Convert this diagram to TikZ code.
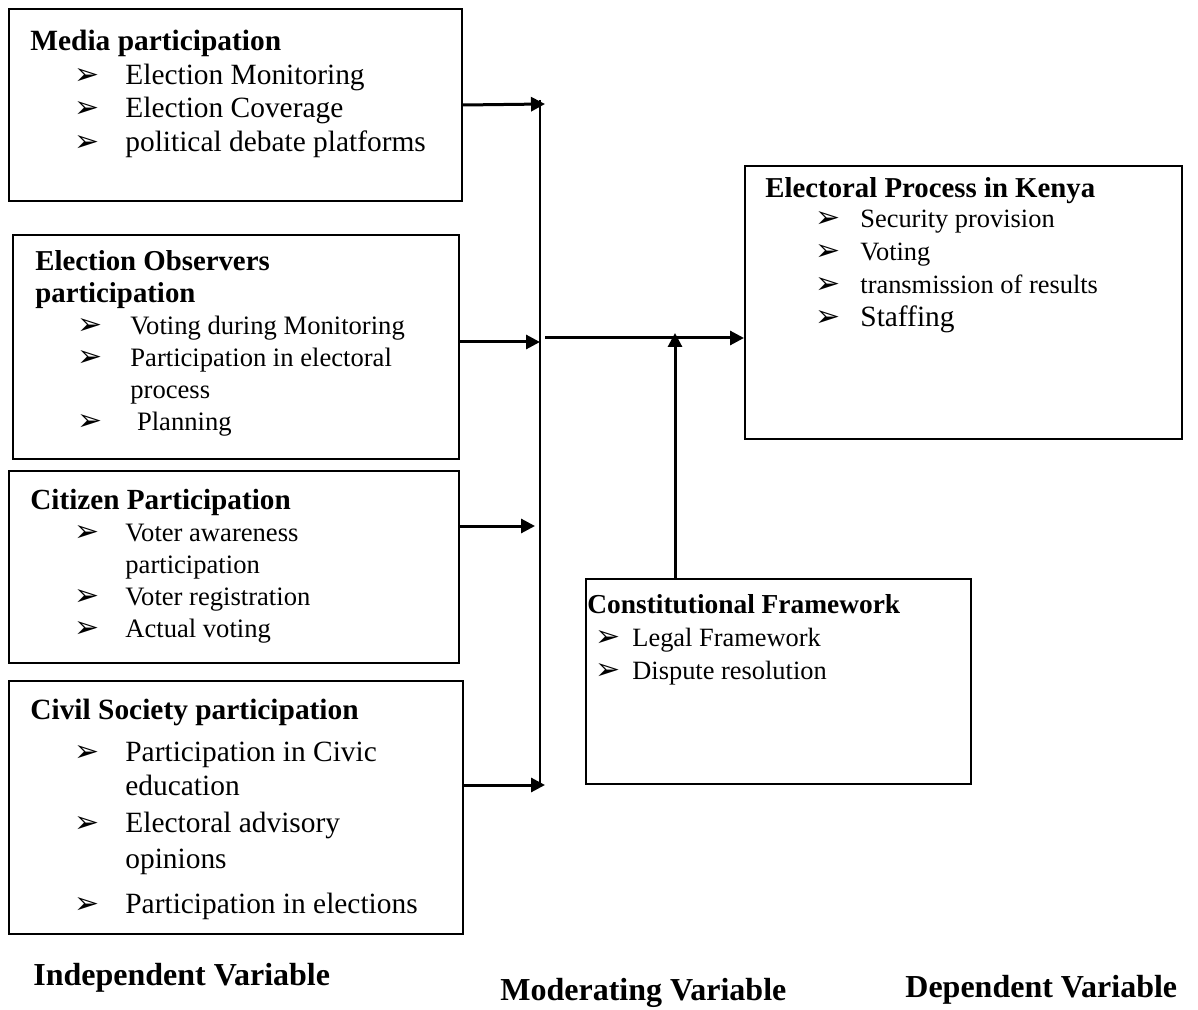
\documentclass[tikz,border=0pt]{standalone}
\usepackage{fontspec}
\setmainfont{Liberation Serif}
\newfontfamily\arrowfont{DejaVu Sans}
\usetikzlibrary{arrows.meta,positioning,calc}
\newcommand{\bul}[2]{\hspace*{#1}\makebox[#2][l]{\arrowfont\fontsize{15}{15}\selectfont ➢}}

\begin{document}
\begin{tikzpicture}[
  x=0.5pt, y=-0.5pt,
  box/.style={draw, line width=1pt, anchor=north west, inner sep=0pt},
  txt/.style={anchor=north west, align=left, inner sep=0pt},
  big/.style={font=\fontsize{14.7}{16.8}\selectfont},
  small/.style={font=\fontsize{13.3}{16}\selectfont},
  arr/.style={-{Triangle[length=7pt,width=7pt]}, line width=1.5pt},
  var/.style={anchor=west, inner sep=0pt, font=\bfseries\fontsize{16}{18}\selectfont}
]
\useasboundingbox (0,0) rectangle (1198,1010);

% independent variable boxes
\node[box, minimum width=226.5pt, minimum height=96pt] (media) at (8,8) {};
\node[box, minimum width=223pt, minimum height=112pt] (obs) at (12,234) {};
\node[box, minimum width=225pt, minimum height=96pt] (cit) at (8,470) {};
\node[box, minimum width=227pt, minimum height=126.5pt] (civ) at (8,680) {};

% dependent and moderating boxes
\node[box, minimum width=218.5pt, minimum height=136.5pt] (elec) at (744,165) {};
\node[box, minimum width=192.5pt, minimum height=102.5pt] (con) at (585,578) {};

\node[txt, big] at ($(media.north west)+(22,22)$) {\textbf{Media participation}\\
  \bul{22pt}{25.5pt}Election Monitoring\\
  \bul{22pt}{25.5pt}Election Coverage\\
  \bul{22pt}{25.5pt}political debate platforms};

\node[txt, small] at ($(obs.north west)+(23,16)$) {{\bfseries\fontsize{14.4}{16}\selectfont Election Observers}\\
  {\bfseries\fontsize{14.4}{16}\selectfont participation}\\
  \bul{21pt}{26.5pt}Voting during Monitoring\\
  \bul{21pt}{26.5pt}Participation in electoral\\
  \hspace*{47.5pt}process\\
  \bul{21pt}{26.5pt} Planning};

\node[txt, small] at ($(cit.north west)+(22,19)$) {{\bfseries\fontsize{14.6}{16}\selectfont Citizen Participation}\\
  \bul{22pt}{25.5pt}Voter awareness\\
  \hspace*{47.5pt}participation\\
  \bul{22pt}{25.5pt}Voter registration\\
  \bul{22pt}{25.5pt}Actual voting};

\node[txt, big] at ($(civ.north west)+(22,19)$) {\textbf{Civil Society participation}\\[4pt]
  \bul{22pt}{25.5pt}Participation in Civic\\
  \hspace*{47.5pt}education\\[2pt]
  \bul{22pt}{25.5pt}Electoral advisory\\[1pt]
  \hspace*{47.5pt}opinions\\[6pt]
  \bul{22pt}{25.5pt}Participation in elections};

\node[txt, font=\fontsize{13.2}{16.5}\selectfont] at ($(elec.north west)+(21,12)$) {{\bfseries\fontsize{14.4}{16}\selectfont Electoral Process in Kenya}\\[-1.5pt]
  \bul{25pt}{22.5pt}Security provision\\
  \bul{25pt}{22.5pt}Voting\\
  \bul{25pt}{22.5pt}transmission of results\\
  \bul{25pt}{22.5pt}{\fontsize{14.7}{16.5}\selectfont Staffing}};

\node[txt, font=\fontsize{13.2}{16.5}\selectfont] at ($(con.north west)+(2,16)$) {{\bfseries\fontsize{13.7}{16}\selectfont Constitutional Framework}\\
  \bul{4pt}{18.5pt}Legal Framework\\
  \bul{4pt}{18.5pt}Dispute resolution};

% variable captions
\node[var] (iv) at (33,978) {Independent Variable};
\node[var] (mv) at (500,993) {Moderating Variable};
\node[var] (dv) at (905,990) {Dependent Variable};

% connectors
\coordinate (bustop) at (540,100);
\coordinate (busbot) at (540,785);
\coordinate (b1) at (545,104);
\coordinate (b2) at (540,342);
\coordinate (b3) at (535,526);
\coordinate (b4) at (545,785);
\coordinate (j) at (545,338);
\coordinate (m) at (675,333);

\draw[line width=0.75pt] (bustop) -- (busbot);
\draw[arr] (media.east) -- (b1);
\draw[arr] (obs.east |- b2) -- (b2);
\draw[arr] (cit.east |- b3) -- (b3);
\draw[arr] (civ.east |- b4) -- (b4);
\draw[arr] (j) -- (elec.west |- j);
\draw[arr] (con.north -| m) -- (m);
\end{tikzpicture}
\end{document}
